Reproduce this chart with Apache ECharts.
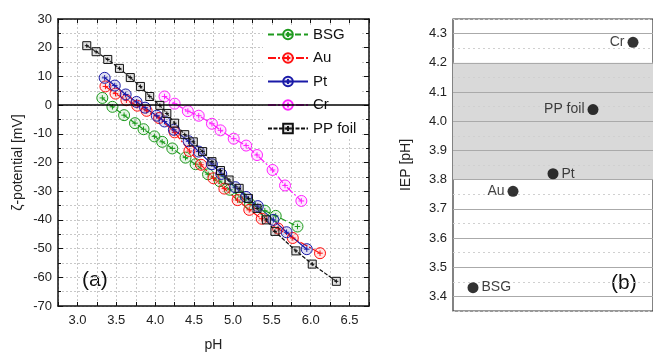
<!DOCTYPE html>
<html>
<head>
<meta charset="utf-8">
<script src="https://cdn.jsdelivr.net/npm/echarts@6/dist/echarts.min.js"></script>
<style>html,body{margin:0;padding:0;background:#fff}#c{width:653px;height:357px}</style>
</head>
<body>
<div id="c"></div>
<script>
// ---- Panel (a): zeta potential vs pH ----
var bsgPH = [3.32,3.45,3.60,3.74,3.85,3.99,4.09,4.22,4.39,4.52,4.68,4.83,4.96,5.10,5.22,5.41,5.55,5.83];
var bsgZeta = [2.5,-0.6,-3.5,-6.3,-8.4,-10.9,-12.8,-15.1,-18.3,-20.6,-24.1,-26.5,-29.5,-32.0,-34.5,-36.8,-38.6,-42.3];
var auPH = [3.36,3.49,3.63,3.77,3.89,4.05,4.25,4.44,4.59,4.75,4.89,5.06,5.21,5.37,5.58,5.77,6.12];
var auZeta = [6.5,4.0,1.7,-0.2,-2.0,-4.5,-9.5,-16.0,-20.8,-25.5,-29.1,-33.1,-36.5,-39.6,-43.0,-46.3,-51.6];
var ptPH = [3.35,3.48,3.62,3.76,3.87,4.02,4.12,4.24,4.43,4.56,4.73,4.85,5.03,5.17,5.32,5.52,5.69,5.95];
var ptZeta = [9.5,6.8,3.7,1.1,-0.9,-3.7,-5.7,-8.6,-12.6,-16.2,-20.6,-24.0,-28.6,-32.0,-35.2,-40.0,-44.3,-50.2];
var crPH = [4.12,4.25,4.42,4.56,4.73,4.84,5.01,5.17,5.31,5.51,5.67,5.88];
var crZeta = [3.0,0.5,-2.1,-3.7,-6.5,-8.8,-11.7,-14.1,-17.4,-22.6,-28.0,-33.4];
var ppPH = [3.12,3.24,3.39,3.54,3.68,3.81,3.93,4.06,4.15,4.25,4.38,4.49,4.61,4.73,4.84,4.95,5.08,5.20,5.31,5.43,5.54,5.81,6.02,6.33];
var ppZeta = [20.7,18.6,15.9,12.8,9.6,6.5,3.0,-0.1,-2.9,-6.3,-10.3,-12.8,-16.2,-19.7,-22.8,-26.1,-29.0,-32.5,-36.0,-40.0,-44.0,-50.8,-55.4,-61.4];
var seriesNames = ['BSG','Au','Pt','Cr','PP foil'];

// ---- Panel (b): IEP ----
var iepNames = ['BSG','Au','Pt','PP foil','Cr'];
var iepValues = [3.43,3.76,3.82,4.04,4.27];
var iepLabelSide = ['right','left','right','left','left'];
var iepBand = [3.8,4.2];

function zip(a,b){return a.map(function(v,i){return [v,b[i]];});}
var FONT = 'Liberation Sans, Arial, sans-serif';
var circ = 'path://M0,10A10,10,0,1,1,20,10A10,10,0,1,1,0,10ZM5,10L15,10M10,5L10,15';
var sq = 'path://M0,0L20,0L20,20L0,20ZM5,10L15,10M10,5L10,15';

function lineSeries(name, xs, ys, color, fill, dash, sym, size){
  return {
    name:name, type:'line', xAxisIndex:0, yAxisIndex:0,
    data: zip(xs,ys), symbol:sym, symbolSize:size,
    itemStyle:{color:fill, borderColor:color, borderWidth:1},
    lineStyle:{color:color, width:1.2, type:dash},
    z:3
  };
}

var majorLines = [], minorLines = [];
for (var k=0;k<=20;k++){
  var v = Math.round((3.35 + k*0.05)*100)/100;
  if (Math.abs(v*10 - Math.round(v*10))<1e-6) majorLines.push({yAxis:v});
  else minorLines.push({yAxis:v});
}

var tickFmt = function(v){ return Math.abs(v*2 - Math.round(v*2))<1e-6 ? v.toFixed(1) : ''; };
var iepFmt = function(v){ return Math.abs(v*10 - Math.round(v*10))<1e-6 ? v.toFixed(1) : ''; };

var chart = echarts.init(document.getElementById('c'), null, {renderer:'canvas'});
var option = {
  backgroundColor:'#fff',
  animation:false,
  textStyle:{fontFamily:FONT},
  grid:[
    {left:58, top:19, width:311, height:292, show:false},
    {left:453, top:19, width:207.5, height:292, show:true, borderColor:'#333', borderWidth:1.2, backgroundColor:'transparent'}
  ],
  legend:{
    data:seriesNames, orient:'vertical', left:263, top:25,
    itemWidth:40, itemHeight:12, itemGap:8.5,
    backgroundColor:'#fff', padding:[2,4,2,4],
    textStyle:{fontSize:15, color:'#111', fontFamily:FONT}
  },
  xAxis:[
    {gridIndex:0, type:'value', min:2.75, max:6.75, interval:0.25, position:'bottom',
     name:'pH', nameLocation:'middle', nameGap:32, nameTextStyle:{fontSize:14, color:'#222'},
     axisLine:{onZero:false, lineStyle:{color:'#111', width:1.5}},
     axisTick:{inside:true, length:4, lineStyle:{color:'#111'}},
     axisLabel:{formatter:tickFmt, fontSize:13, color:'#222', margin:8},
     splitLine:{show:true, lineStyle:{color:'#c8c8c8', type:[2,2], width:1}}},
    {gridIndex:0, type:'value', min:2.75, max:6.75, interval:0.25, position:'top',
     axisLine:{onZero:false, lineStyle:{color:'#111', width:1.5}},
     axisTick:{inside:true, length:4, lineStyle:{color:'#111'}},
     axisLabel:{show:false}, splitLine:{show:false}},
    {gridIndex:1, type:'category', data:iepNames, show:false, boundaryGap:true}
  ],
  yAxis:[
    {gridIndex:0, type:'value', min:-70, max:30, interval:10, position:'left',
     name:'ζ-potential [mV]', nameLocation:'middle', nameGap:33, nameTextStyle:{fontSize:14, color:'#222'},
     axisLine:{onZero:false, lineStyle:{color:'#111', width:1.5}},
     axisTick:{inside:true, length:5, lineStyle:{color:'#111'}},
     minorTick:{show:true, splitNumber:2, length:3, lineStyle:{color:'#111'}},
     axisLabel:{fontSize:13, color:'#222', margin:6},
     splitLine:{show:true, lineStyle:{color:'#c8c8c8', type:[2,2], width:1}},
     minorSplitLine:{show:true, lineStyle:{color:'#c8c8c8', type:[2,2], width:1}}},
    {gridIndex:0, type:'value', min:-70, max:30, interval:10, position:'right',
     axisLine:{onZero:false, lineStyle:{color:'#111', width:1.5}},
     axisTick:{inside:true, length:5, lineStyle:{color:'#111'}},
     minorTick:{show:true, splitNumber:2, length:3, lineStyle:{color:'#111'}},
     axisLabel:{show:false}, splitLine:{show:false}},
    {gridIndex:1, type:'value', min:3.35, max:4.35, interval:0.05, position:'left',
     name:'IEP [pH]', nameLocation:'middle', nameGap:40, nameTextStyle:{fontSize:14, color:'#222'},
     axisLine:{onZero:false, lineStyle:{color:'#333', width:1.2}},
     axisTick:{inside:true, length:4, lineStyle:{color:'#333'}},
     axisLabel:{formatter:iepFmt, fontSize:13, color:'#222', margin:6, showMinLabel:false, showMaxLabel:false},
     splitLine:{show:false}}
  ],
  series:[
    {type:'line', xAxisIndex:0, yAxisIndex:0, data:[], silent:true,
     markLine:{symbol:'none', silent:true, label:{show:false},
       lineStyle:{color:'#000', type:'solid', width:1.5}, data:[{yAxis:0}]}, z:2},
    lineSeries('BSG', bsgPH, bsgZeta, '#1e9a1e', 'rgba(30,154,30,0.10)', [6,3], circ, 11),
    lineSeries('Au', auPH, auZeta, '#ff1010', 'rgba(255,16,16,0.10)', [8,2,2,2], circ, 11),
    lineSeries('Pt', ptPH, ptZeta, '#1a1aa8', 'rgba(26,26,168,0.14)', 'solid', circ, 11),
    lineSeries('Cr', crPH, crZeta, '#ff22ff', 'rgba(255,34,255,0.10)', [8,2,2,2], circ, 11),
    lineSeries('PP foil', ppPH, ppZeta, '#111', 'rgba(140,140,140,0.25)', [4,1.5], sq, 8),
    {type:'line', xAxisIndex:2, yAxisIndex:2, data:[], silent:true,
     markArea:{silent:true, itemStyle:{color:'#d9d9d9'}, data:[[{yAxis:iepBand[0]},{yAxis:iepBand[1]}]]}, z:1},
    {type:'line', xAxisIndex:2, yAxisIndex:2, data:[], silent:true,
     markLine:{symbol:'none', silent:true, label:{show:false},
       lineStyle:{color:'#d0d0d0', type:[2,3], width:1}, data:minorLines}, z:1},
    {type:'line', xAxisIndex:2, yAxisIndex:2, data:[], silent:true,
     markLine:{symbol:'none', silent:true, label:{show:false},
       lineStyle:{color:'#aaaaaa', type:'solid', width:1}, data:majorLines}, z:1},
    {type:'scatter', xAxisIndex:2, yAxisIndex:2, symbol:'circle', symbolSize:11,
     itemStyle:{color:'#000'},
     data: iepValues.map(function(v,i){
       return {value:[iepNames[i], v], label:{show:true, position:iepLabelSide[i], formatter:iepNames[i], distance:3, fontSize:14, color:'#111', fontFamily:FONT}};
     }), z:5}
  ],
  graphic:[
    {type:'text', left:82, top:270, style:{text:'(a)', fontSize:21, fill:'#111', fontFamily:FONT}},
    {type:'text', left:611, top:273, style:{text:'(b)', fontSize:21, fill:'#111', fontFamily:FONT}}
  ]
};
chart.setOption(option);
</script>
</body>
</html>
